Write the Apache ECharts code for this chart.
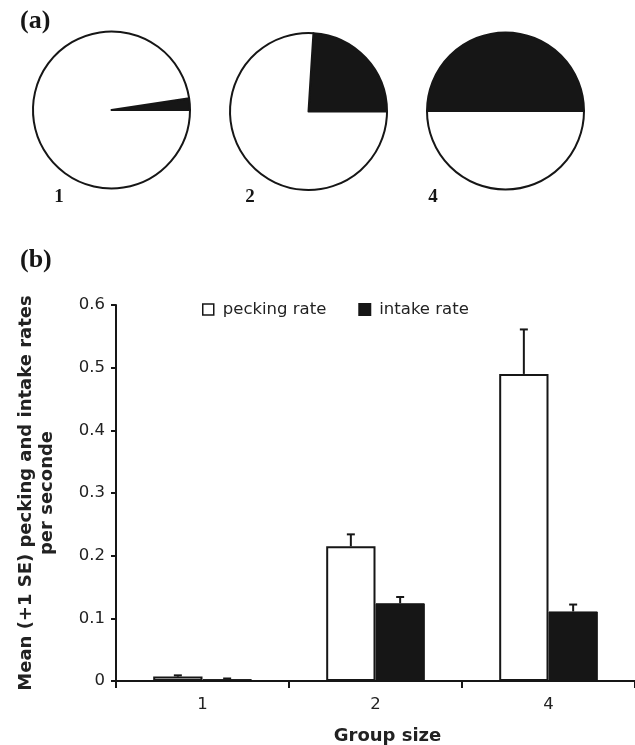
<!DOCTYPE html>
<html>
<head>
<meta charset="utf-8">
<script src="https://cdn.jsdelivr.net/npm/echarts@6/dist/echarts.min.js"></script>
<style>
html,body{margin:0;padding:0;background:#fff;}
#chart{width:635px;height:745px;}
</style>
</head>
<body>
<div id="chart"></div>
<script>
// ---- data ----
const groups = ['1', '2', '4'];
const peckingRate = [0.007, 0.215, 0.49];
const peckingSE = [0.002, 0.019, 0.071];
const intakeRate = [0.003, 0.124, 0.111];
const intakeSE = [0.001, 0.010, 0.011];
const yTicks = [0, 0.1, 0.2, 0.3, 0.4, 0.5, 0.6];
const pieLabels = ['1', '2', '4'];
const pieBlackShare = [2.4, 24, 50];
const pieWhiteShare = [97.6, 76, 50];
const seriesNames = ['pecking rate', 'intake rate'];

// ---- styling ----
const INK = '#161616';
const TXT = '#222';
const SANS = 'DejaVu Sans';
const SERIF = 'Liberation Serif';
const CAT_GAP = 0.43;

const pieCenters = [[111.5, 110], [308.5, 111.5], [505.5, 111]];
const pieLabelPos = [[59, 197], [250, 197], [433, 197]];

const chart = echarts.init(document.getElementById('chart'), null, {renderer: 'canvas'});

function errorSeries(name, values, ses, side) {
  return {
    type: 'custom',
    name: name + ' SE',
    z: 5,
    silent: true,
    data: values.map((v, i) => [i, v, v + ses[i]]),
    renderItem: function (params, api) {
      const cat = api.value(0);
      const base = api.coord([cat, api.value(1)]);
      const top = api.coord([cat, api.value(2)]);
      const band = api.size([1, 0])[0];
      const bw = band * (1 - CAT_GAP) / 2;
      const x = base[0] + side * bw / 2;
      const capHalf = 4;
      return {
        type: 'group',
        children: [
          {type: 'line', shape: {x1: x, y1: base[1], x2: x, y2: top[1]}, style: {stroke: INK, lineWidth: 2}},
          {type: 'line', shape: {x1: x - capHalf, y1: top[1], x2: x + capHalf, y2: top[1]}, style: {stroke: INK, lineWidth: 2}}
        ]
      };
    }
  };
}

const pieSeries = pieCenters.map((c, i) => ({
  type: 'pie',
  center: c,
  radius: 78.5,
  startAngle: 0,
  clockwise: false,
  silent: true,
  label: {show: false},
  labelLine: {show: false},
  itemStyle: {borderColor: INK, borderWidth: 2},
  data: [
    {value: pieBlackShare[i], name: 'black', itemStyle: {color: INK}},
    {value: pieWhiteShare[i], name: 'white', itemStyle: {color: '#fff'}}
  ]
}));

const graphics = [
  {type: 'text', left: 20, top: 8, style: {text: '(a)', font: 'bold 26px ' + SERIF, fill: INK}},
  {type: 'text', left: 20, top: 247, style: {text: '(b)', font: 'bold 26px ' + SERIF, fill: INK}}
].concat(pieLabels.map((t, i) => ({
  type: 'text', x: pieLabelPos[i][0], y: pieLabelPos[i][1],
  style: {text: t, font: 'bold 19px ' + SERIF, fill: INK, align: 'center', verticalAlign: 'middle'}
})));

const option = {
  animation: false,
  backgroundColor: '#fff',
  graphic: graphics,
  legend: {
    data: [
      {name: seriesNames[0], itemStyle: {color: '#fff', borderColor: INK, borderWidth: 1.5}},
      {name: seriesNames[1], itemStyle: {color: INK}}
    ],
    left: 197,
    top: 296,
    icon: 'rect',
    itemWidth: 11,
    itemHeight: 11,
    itemGap: 32,
    selectedMode: false,
    textStyle: {fontFamily: SANS, fontSize: 16.5, color: TXT, padding: [0, 0, 0, 4]}
  },
  grid: {left: 116, right: 0, top: 305, bottom: 64, containLabel: false, outerBoundsMode: 'none'},
  xAxis: {
    type: 'category',
    data: groups,
    axisLine: {lineStyle: {color: INK, width: 2}},
    axisTick: {show: true, length: 7, lineStyle: {color: INK, width: 2}},
    axisLabel: {fontFamily: SANS, fontSize: 16.5, color: TXT, margin: 15},
    name: 'Group size',
    nameLocation: 'middle',
    nameGap: 46,
    nameTextStyle: {fontFamily: SANS, fontWeight: 'bold', fontSize: 18, color: TXT, padding: [0, 0, 0, 24]}
  },
  yAxis: {
    type: 'value',
    min: yTicks[0],
    max: yTicks[yTicks.length - 1],
    interval: 0.1,
    splitLine: {show: false},
    axisLine: {show: true, lineStyle: {color: INK, width: 2}},
    axisTick: {show: true, length: 5, lineStyle: {color: INK, width: 2}},
    axisLabel: {fontFamily: SANS, fontSize: 16.5, color: TXT, margin: 11,
      formatter: v => (v === 0 ? '0' : v.toFixed(1))},
    name: 'Mean (+1 SE) pecking and intake rates\nper seconde',
    nameLocation: 'middle',
    nameGap: 58,
    nameTextStyle: {fontFamily: SANS, fontWeight: 'bold', fontSize: 18, lineHeight: 21, color: TXT, align: 'center'}
  },
  series: pieSeries.concat([
    {
      type: 'bar',
      name: seriesNames[0],
      data: peckingRate,
      barGap: '0%',
      barCategoryGap: (CAT_GAP * 100) + '%',
      itemStyle: {color: '#fff', borderColor: INK, borderWidth: 2},
      silent: true
    },
    {
      type: 'bar',
      name: seriesNames[1],
      data: intakeRate,
      barGap: '0%',
      barCategoryGap: (CAT_GAP * 100) + '%',
      itemStyle: {color: INK, borderColor: INK, borderWidth: 1},
      silent: true
    },
    errorSeries(seriesNames[0], peckingRate, peckingSE, -1),
    errorSeries(seriesNames[1], intakeRate, intakeSE, 1)
  ])
};
chart.setOption(option);
</script>
</body>
</html>
